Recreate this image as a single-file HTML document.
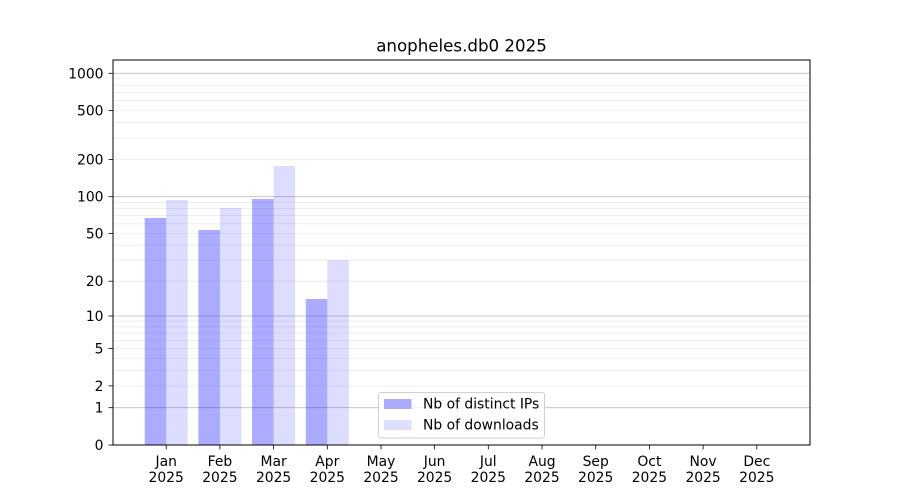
<!DOCTYPE html>
<html><head><meta charset="utf-8"><style>
html,body{margin:0;padding:0;background:#fff;}
svg{display:block;}
text{font-family:"DejaVu Sans","Liberation Sans",sans-serif;fill:#000;}
</style></head><body>
<svg width="900" height="500" viewBox="0 0 900 500" xmlns="http://www.w3.org/2000/svg">
<rect x="0" y="0" width="900" height="500" fill="#fff"/>
<text x="461.5" y="51.5" font-size="16.67" text-anchor="middle">anopheles.db0 2025</text>
<!-- minor grid -->
<g stroke="#ebebeb" stroke-width="0.8">
<line x1="113" x2="810" y1="385.9" y2="385.9"/><line x1="113" x2="810" y1="370.4" y2="370.4"/>
<line x1="113" x2="810" y1="358.4" y2="358.4"/><line x1="113" x2="810" y1="348.6" y2="348.6"/>
<line x1="113" x2="810" y1="340.3" y2="340.3"/><line x1="113" x2="810" y1="333.1" y2="333.1"/>
<line x1="113" x2="810" y1="326.8" y2="326.8"/><line x1="113" x2="810" y1="321.1" y2="321.1"/>
<line x1="113" x2="810" y1="281.2" y2="281.2"/><line x1="113" x2="810" y1="260.2" y2="260.2"/>
<line x1="113" x2="810" y1="245.2" y2="245.2"/><line x1="113" x2="810" y1="233.4" y2="233.4"/>
<line x1="113" x2="810" y1="223.8" y2="223.8"/><line x1="113" x2="810" y1="215.6" y2="215.6"/>
<line x1="113" x2="810" y1="208.5" y2="208.5"/><line x1="113" x2="810" y1="202.3" y2="202.3"/>
<line x1="113" x2="810" y1="159.6" y2="159.6"/><line x1="113" x2="810" y1="137.9" y2="137.9"/>
<line x1="113" x2="810" y1="122.5" y2="122.5"/><line x1="113" x2="810" y1="110.5" y2="110.5"/>
<line x1="113" x2="810" y1="100.7" y2="100.7"/><line x1="113" x2="810" y1="92.4" y2="92.4"/>
<line x1="113" x2="810" y1="85.2" y2="85.2"/><line x1="113" x2="810" y1="78.9" y2="78.9"/>
</g>
<!-- major grid -->
<g stroke="#bdbdbd" stroke-width="0.8">
<line x1="113" x2="810" y1="407.7" y2="407.7"/>
<line x1="113" x2="810" y1="316.0" y2="316.0"/>
<line x1="113" x2="810" y1="196.7" y2="196.7"/>
<line x1="113" x2="810" y1="73.3" y2="73.3"/>
</g>
<!-- bars -->
<g fill="#0000ff" fill-opacity="0.33">
<rect x="144.7" y="218" width="21.5" height="227"/>
<rect x="198.4" y="230" width="21.5" height="215"/>
<rect x="252.1" y="199" width="21.5" height="246"/>
<rect x="305.8" y="299" width="21.5" height="146"/>
</g>
<g fill="#0000ff" fill-opacity="0.135">
<rect x="166.2" y="200" width="21.5" height="245"/>
<rect x="219.9" y="208" width="21.5" height="237"/>
<rect x="273.6" y="166" width="21.5" height="279"/>
<rect x="327.3" y="260" width="21.5" height="185"/>
</g>
<!-- axes frame -->
<rect x="113" y="60" width="697" height="385" fill="none" stroke="#000" stroke-width="1"/>
<!-- y ticks -->
<g stroke="#000" stroke-width="0.8">
<line x1="108.5" x2="113" y1="445" y2="445"/><line x1="108.5" x2="113" y1="407.7" y2="407.7"/>
<line x1="108.5" x2="113" y1="385.9" y2="385.9"/><line x1="108.5" x2="113" y1="348.6" y2="348.6"/>
<line x1="108.5" x2="113" y1="316.0" y2="316.0"/><line x1="108.5" x2="113" y1="281.2" y2="281.2"/>
<line x1="108.5" x2="113" y1="233.4" y2="233.4"/><line x1="108.5" x2="113" y1="196.7" y2="196.7"/>
<line x1="108.5" x2="113" y1="159.6" y2="159.6"/><line x1="108.5" x2="113" y1="110.5" y2="110.5"/>
<line x1="108.5" x2="113" y1="73.3" y2="73.3"/>
</g>
<g font-size="13.89" text-anchor="end">
<text x="103.5" y="450">0</text>
<text x="103.5" y="412.7">1</text>
<text x="103.5" y="390.9">2</text>
<text x="103.5" y="353.6">5</text>
<text x="103.5" y="321">10</text>
<text x="103.5" y="286.2">20</text>
<text x="103.5" y="238.4">50</text>
<text x="103.5" y="201.7">100</text>
<text x="103.5" y="164.6">200</text>
<text x="103.5" y="115.5">500</text>
<text x="103.5" y="78.3">1000</text>
</g>
<!-- x ticks -->
<g stroke="#000" stroke-width="0.8">
<line x1="166.2" x2="166.2" y1="445" y2="449.5"/><line x1="219.9" x2="219.9" y1="445" y2="449.5"/>
<line x1="273.6" x2="273.6" y1="445" y2="449.5"/><line x1="327.3" x2="327.3" y1="445" y2="449.5"/>
<line x1="381" x2="381" y1="445" y2="449.5"/><line x1="434.6" x2="434.6" y1="445" y2="449.5"/>
<line x1="488.3" x2="488.3" y1="445" y2="449.5"/><line x1="542" x2="542" y1="445" y2="449.5"/>
<line x1="595.7" x2="595.7" y1="445" y2="449.5"/><line x1="649.4" x2="649.4" y1="445" y2="449.5"/>
<line x1="703.1" x2="703.1" y1="445" y2="449.5"/><line x1="756.8" x2="756.8" y1="445" y2="449.5"/>
</g>
<g font-size="13.89" text-anchor="middle">
<text x="166.2" y="466">Jan</text><text x="166.2" y="482">2025</text>
<text x="219.9" y="466">Feb</text><text x="219.9" y="482">2025</text>
<text x="273.6" y="466">Mar</text><text x="273.6" y="482">2025</text>
<text x="327.3" y="466">Apr</text><text x="327.3" y="482">2025</text>
<text x="381" y="466">May</text><text x="381" y="482">2025</text>
<text x="434.6" y="466">Jun</text><text x="434.6" y="482">2025</text>
<text x="488.3" y="466">Jul</text><text x="488.3" y="482">2025</text>
<text x="542" y="466">Aug</text><text x="542" y="482">2025</text>
<text x="595.7" y="466">Sep</text><text x="595.7" y="482">2025</text>
<text x="649.4" y="466">Oct</text><text x="649.4" y="482">2025</text>
<text x="703.1" y="466">Nov</text><text x="703.1" y="482">2025</text>
<text x="756.8" y="466">Dec</text><text x="756.8" y="482">2025</text>
</g>
<!-- legend -->
<rect x="378.5" y="392.5" width="166" height="45.5" rx="2.5" ry="2.5" fill="#fff" fill-opacity="0.8" stroke="#d0d0d0" stroke-width="1"/>
<rect x="384" y="399" width="27.5" height="10" fill="#ababff"/>
<rect x="384" y="420" width="27.5" height="10" fill="#dedeff"/>
<g font-size="13.89">
<text x="423" y="408.5">Nb of distinct IPs</text>
<text x="423" y="429.5">Nb of downloads</text>
</g>
</svg>
</body></html>
